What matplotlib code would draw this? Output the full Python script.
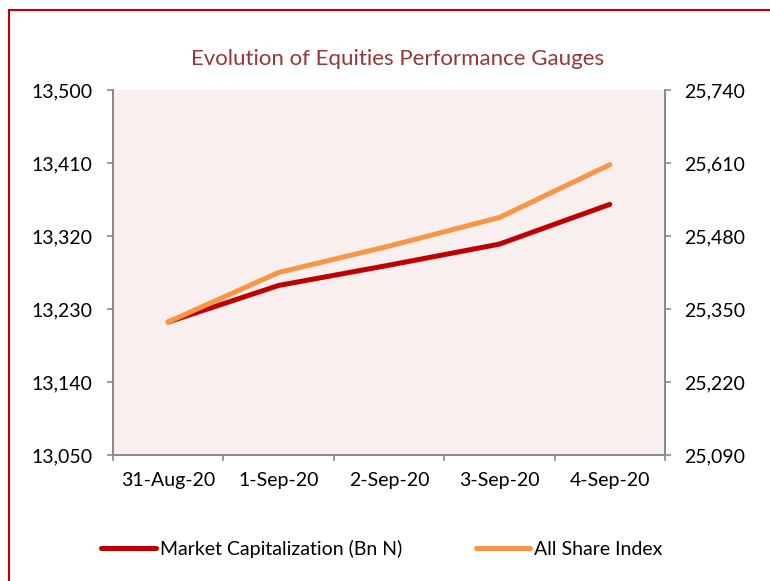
import matplotlib.pyplot as plt
from matplotlib.patches import Rectangle
from matplotlib.ticker import FuncFormatter, FixedLocator

plt.rcParams['font.family'] = ['Lato', 'DejaVu Sans']

# valeurs
dates = ['31-Aug-20', '1-Sep-20', '2-Sep-20', '3-Sep-20', '4-Sep-20']
market_cap = [13214, 13259, 13284, 13310, 13359]
asi = [25327, 25415, 25462, 25513, 25607]

left_ticks = [13050, 13140, 13230, 13320, 13410, 13500]
right_ticks = [25090, 25220, 25350, 25480, 25610, 25740]

red = '#C00000'
orange = '#F79646'
grey = '#898989'

fig = plt.figure(figsize=(7.7, 5.81), dpi=100)
ax = fig.add_axes([113 / 770, 1 - 455 / 581, 552 / 770, 365 / 581])
ax2 = ax.twinx()

x = list(range(len(dates)))
l1, = ax.plot(x, market_cap, color=red, lw=3.6, solid_capstyle='round', label='Market Capitalization (Bn N)')
l2, = ax2.plot(x, asi, color=orange, lw=3.6, solid_capstyle='round', label='All Share Index')

ax.set_facecolor('#F8EFEE')
ax.set_xlim(-0.5, len(dates) - 0.5)
ax.set_ylim(left_ticks[0], left_ticks[-1])
ax2.set_ylim(right_ticks[0], right_ticks[-1])
ax.set_yticks(left_ticks)
ax2.set_yticks(right_ticks)
fmt = FuncFormatter(lambda v, p: f'{int(v):,}')
ax.yaxis.set_major_formatter(fmt)
ax2.yaxis.set_major_formatter(fmt)

ax.set_xticks(x)
ax.set_xticklabels(dates)
ax.xaxis.set_minor_locator(FixedLocator([i - 0.5 for i in range(len(dates) + 1)]))
ax.tick_params(axis='x', which='major', length=0, pad=12, labelsize=14)
ax.tick_params(axis='x', which='minor', length=4, color=grey, width=1.2)
ax.tick_params(axis='y', length=4, color=grey, width=1.2, labelsize=14, pad=11)
ax2.tick_params(axis='y', length=4, color=grey, width=1.2, labelsize=14, pad=10)

for a in (ax, ax2):
    a.spines['top'].set_visible(False)
    for s in ('left', 'right', 'bottom'):
        a.spines[s].set_color(grey)
        a.spines[s].set_linewidth(1.2)

fig.text(398 / 770, 1 - 59 / 581, 'Evolution of Equities Performance Gauges',
         ha='center', va='center', fontsize=16, color='#953735')

fig.legend([l1, l2], [l1.get_label(), l2.get_label()], loc='center',
           bbox_to_anchor=(382 / 770, 1 - 549 / 581), ncol=2, frameon=False,
           fontsize=14, handlelength=2.8, columnspacing=3.8, handletextpad=0.2)

# cadre rouge
fig.patches.append(Rectangle((9 / 770, -0.05), 1.1, 1 - 10 / 581 + 0.05,
                             transform=fig.transFigure, fill=False,
                             edgecolor=red, lw=1.5, clip_on=False))

plt.savefig('out.png', dpi=100)
